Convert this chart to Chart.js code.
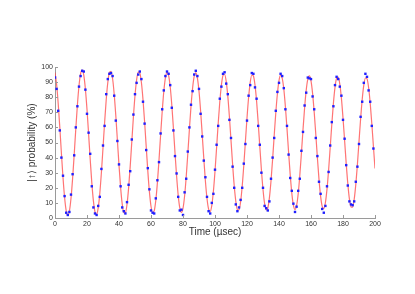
<!DOCTYPE html>
<html>
<head>
<meta charset="utf-8">
<script src="https://cdn.jsdelivr.net/npm/chart.js@4"></script>
<style>
  body { margin: 0; background: #fff; }
  #wrap { width: 415px; height: 294px; position: relative; }
</style>
</head>
<body>
<div id="wrap"><canvas id="myChart"></canvas></div>
<script>
// time axis in usec, one sample per usec
const times = [];
for (let i = 0; i <= 200; i++) times.push(i);

// measured probability (blue dots), t = 0..199
const measured = [
  93, 85.5, 71, 58, 40, 28, 14.5, 3.5, 2, 4,
  15.5, 29, 41.5, 60, 74, 87, 94, 97.5, 97, 85,
  69, 56.5, 42.5, 21, 7, 3, 2, 8, 14, 32.5,
  48, 61, 82, 92, 95.5, 96, 94, 81, 64.5, 51,
  35.5, 21, 7, 4.5, 3, 10.5, 22, 31, 52, 68.5,
  82, 89.5, 95, 97, 92, 77, 62.5, 45, 33, 19,
  5, 3.5, 3, 13, 25, 37, 56, 72, 84.5, 94,
  97, 95.5, 88, 73, 58, 41, 29.5, 14, 5, 5.5,
  2, 17, 26, 44, 60, 75, 84, 95, 97.5, 94,
  85.5, 69, 54, 38, 27, 14, 4.5, 3, 10, 16,
  32, 48.5, 61, 79, 87, 95.5, 96.5, 89, 82, 65,
  53, 34, 20, 9, 4.5, 7, 12, 20, 36, 49,
  64.5, 81, 88, 96, 95.5, 86.5, 79, 61, 48.5, 30,
  20, 8, 6.5, 5, 11, 26, 40, 53, 71, 83.5,
  89.5, 95.5, 94, 86, 72, 61, 42, 26.5, 18, 9.5,
  4, 7.5, 18, 26, 44.5, 57, 74.5, 83, 93, 92.5,
  92, 80.5, 72, 53, 41, 24, 16, 6, 3.5, 8,
  21, 30.5, 48, 63.5, 74, 88, 93.5, 92, 87, 81,
  65, 52.5, 35, 21.5, 11, 9, 8.5, 11, 24, 34,
  49, 67, 77, 89.5, 95.5, 93.5, 84.5, 77, 61, 46
];

// fitted curve (red line), t = 0..200
const fitted = [
  96.3, 88.5, 75.8, 60.0, 43.0, 26.8, 13.6, 4.8, 1.7, 4.6,
  13.1, 26.1, 42.1, 59.1, 74.9, 87.6, 95.6, 98.0, 94.4, 85.3,
  71.9, 55.7, 38.9, 23.4, 11.3, 4.0, 2.4, 6.7, 16.3, 30.1,
  46.4, 63.1, 78.2, 89.7, 96.3, 97.2, 92.2, 82.0, 67.8, 51.5,
  35.0, 20.3, 9.4, 3.5, 3.4, 9.0, 19.8, 34.2, 50.6, 66.9,
  81.1, 91.4, 96.6, 96.0, 89.7, 78.4, 63.7, 47.3, 31.2, 17.5,
  7.8, 3.4, 4.7, 11.7, 23.4, 38.4, 54.8, 70.5, 83.8, 92.8,
  96.5, 94.5, 86.9, 74.8, 59.6, 43.2, 27.8, 15.0, 6.7, 3.7,
  6.4, 14.6, 27.1, 42.5, 58.7, 73.9, 86.1, 93.8, 96.1, 92.6,
  83.9, 71.0, 55.5, 39.3, 24.5, 12.9, 5.9, 4.3, 8.4, 17.7,
  31.0, 46.6, 62.6, 77.0, 88.1, 94.4, 95.2, 90.5, 80.7, 67.1,
  51.4, 35.6, 21.5, 11.1, 5.4, 5.3, 10.7, 21.0, 34.9, 50.6,
  66.2, 79.8, 89.7, 94.7, 94.1, 88.0, 77.3, 63.1, 47.4, 32.0,
  18.9, 9.6, 5.3, 6.6, 13.3, 24.5, 38.8, 54.6, 69.7, 82.3,
  91.0, 94.6, 92.6, 85.4, 73.7, 59.2, 43.5, 28.7, 16.5, 8.5,
  5.6, 8.3, 16.1, 28.1, 42.8, 58.4, 72.9, 84.5, 91.9, 94.1,
  90.8, 82.4, 70.1, 55.3, 39.8, 25.6, 14.5, 7.7, 6.3, 10.2,
  19.1, 31.8, 46.7, 62.0, 75.9, 86.5, 92.5, 93.3, 88.7, 79.4,
  66.3, 51.3, 36.2, 22.8, 12.7, 7.3, 7.2, 12.4, 22.3, 35.5,
  50.6, 65.5, 78.5, 88.0, 92.7, 92.2, 86.4, 76.1, 62.6, 47.5,
  32.8
];

const xTicks = [0, 20, 40, 60, 80, 100, 120, 140, 160, 180, 200];
const yTicks = [0, 10, 20, 30, 40, 50, 60, 70, 80, 90, 100];

const axisColor = '#9a9a9a';
const textColor = '#333';

// small ticks pointing into the plot, like the original figure
const inwardTicks = {
  id: 'inwardTicks',
  afterDraw(chart) {
    const ctx = chart.ctx;
    const x = chart.scales.x, y = chart.scales.y;
    ctx.save();
    ctx.strokeStyle = axisColor;
    ctx.lineWidth = 1;
    ctx.beginPath();
    xTicks.forEach(v => {
      const px = Math.round(x.getPixelForValue(v)) + 0.5;
      ctx.moveTo(px, y.bottom);
      ctx.lineTo(px, y.bottom - 3);
    });
    yTicks.forEach(v => {
      const py = Math.round(y.getPixelForValue(v)) + 0.5;
      ctx.moveTo(x.left, py);
      ctx.lineTo(x.left + 3, py);
    });
    ctx.stroke();
    ctx.restore();
  }
};

new Chart(document.getElementById('myChart'), {
  type: 'line',
  data: {
    datasets: [
      {
        label: 'data',
        data: measured.map((v, i) => ({ x: times[i], y: v })),
        showLine: false,
        pointStyle: 'rect',
        pointRadius: 1.7,
        pointBorderWidth: 0,
        pointBackgroundColor: '#2020ff',
        pointBorderColor: '#2020ff'
      },
      {
        label: 'fit',
        data: fitted.map((v, i) => ({ x: times[i], y: v })),
        borderColor: 'rgba(255, 70, 70, 0.75)',
        borderWidth: 1.2,
        pointRadius: 0,
        cubicInterpolationMode: 'monotone',
        fill: false
      }
    ]
  },
  options: {
    responsive: true,
    maintainAspectRatio: false,
    animation: false,
    layout: { padding: { left: 0, top: 67, right: 40, bottom: 0 } },
    plugins: { legend: { display: false }, tooltip: { enabled: false } },
    scales: {
      x: {
        type: 'linear',
        min: 0,
        max: 200,
        afterBuildTicks: s => { s.ticks = xTicks.map(v => ({ value: v })); },
        afterFit: s => { s.height = 76; },
        grid: { display: true, drawOnChartArea: false, drawTicks: false },
        border: { color: axisColor },
        ticks: { color: textColor, padding: 2, font: { family: 'Liberation Sans, Arial', size: 7 }, maxRotation: 0 },
        title: {
          display: true,
          text: 'Time (\u00b5sec)',
          color: textColor,
          font: { family: 'Liberation Sans, Arial', size: 10 },
          padding: { top: 0, bottom: 56 }
        }
      },
      y: {
        min: 0,
        max: 100,
        afterBuildTicks: s => { s.ticks = yTicks.map(v => ({ value: v })); },
        afterFit: s => { s.width = 55; },
        grid: { display: true, drawOnChartArea: false, drawTicks: false },
        border: { color: axisColor },
        ticks: { color: textColor, padding: 2, font: { family: 'Liberation Sans, Arial', size: 7 } },
        title: {
          display: true,
          text: '|\u2191\u27e9 probability (%)',
          color: textColor,
          font: { family: 'Liberation Sans, Arial', size: 10 },
          padding: { top: 26, bottom: 0 }
        }
      }
    }
  },
  plugins: [inwardTicks]
});
</script>
</body>
</html>
